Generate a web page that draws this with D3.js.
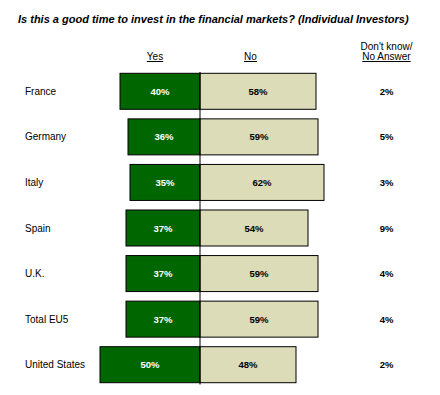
<!DOCTYPE html>
<html>
<head>
<meta charset="utf-8">
<script src="https://cdn.jsdelivr.net/npm/d3@7"></script>
<style>
  html, body { margin: 0; padding: 0; background: #fff; }
  svg { display: block; font-family: "Liberation Sans", Arial, sans-serif; }
</style>
</head>
<body>
<svg id="chart" width="440" height="395"></svg>
<script>
const title = "Is this a good time to invest in the financial markets? (Individual Investors)";
const countries = ["France", "Germany", "Italy", "Spain", "U.K.", "Total EU5", "United States"];
const yesValues = [40, 36, 35, 37, 37, 37, 50];
const noValues = [58, 59, 62, 54, 59, 59, 48];
const dkValues = [2, 5, 3, 9, 4, 4, 2];
const headers = { yes: "Yes", no: "No", dk: ["Don't know/", "No Answer"] };

const svg = d3.select("#chart");
const cx = 200;
const x = d3.scaleLinear().domain([0, 100]).range([0, 200]);
const y = d3.scaleBand().domain(countries).range([73.3, 382.7]).paddingInner(0.21).paddingOuter(0);

const green = "#006600", beige = "#dcdcb9";

svg.append("text")
  .attr("x", 18).attr("y", 23)
  .attr("font-size", 11).attr("font-weight", "bold").attr("font-style", "italic")
  .text(title);

// headers
const hdr = svg.append("g").attr("font-size", 10).attr("fill", "#000");
hdr.append("text").attr("x", 155).attr("y", 60).attr("text-anchor", "middle")
  .attr("text-decoration", "underline").text(headers.yes);
hdr.append("text").attr("x", 250.5).attr("y", 60).attr("text-anchor", "middle")
  .attr("text-decoration", "underline").text(headers.no);
hdr.append("text").attr("x", 386.5).attr("y", 50).attr("text-anchor", "middle")
  .text(headers.dk[0]);
hdr.append("text").attr("x", 386.5).attr("y", 60).attr("text-anchor", "middle")
  .attr("text-decoration", "underline").text(headers.dk[1]);

const rows = svg.selectAll("g.row").data(countries).join("g").attr("class", "row");

rows.append("text")
  .attr("x", 25).attr("y", d => y(d) + y.bandwidth() / 2 + 3.5)
  .attr("font-size", 10).text(d => d);

rows.append("rect")
  .attr("x", (d, i) => cx - x(yesValues[i]))
  .attr("y", d => y(d))
  .attr("width", (d, i) => x(yesValues[i]))
  .attr("height", y.bandwidth())
  .attr("fill", green).attr("stroke", "#000").attr("stroke-width", 1);

rows.append("rect")
  .attr("x", cx)
  .attr("y", d => y(d))
  .attr("width", (d, i) => x(noValues[i]))
  .attr("height", y.bandwidth())
  .attr("fill", beige).attr("stroke", "#000").attr("stroke-width", 1);

rows.append("text")
  .attr("x", (d, i) => cx - x(yesValues[i]) / 2)
  .attr("y", d => y(d) + y.bandwidth() / 2 + 3.5)
  .attr("text-anchor", "middle").attr("font-size", 9.5).attr("font-weight", "bold")
  .attr("fill", "#fff").text((d, i) => yesValues[i] + "%");

rows.append("text")
  .attr("x", (d, i) => cx + x(noValues[i]) / 2)
  .attr("y", d => y(d) + y.bandwidth() / 2 + 3.5)
  .attr("text-anchor", "middle").attr("font-size", 9.5).attr("font-weight", "bold")
  .attr("fill", "#000").text((d, i) => noValues[i] + "%");

rows.append("text")
  .attr("x", 386.5)
  .attr("y", d => y(d) + y.bandwidth() / 2 + 3.5)
  .attr("text-anchor", "middle").attr("font-size", 9.5).attr("font-weight", "bold")
  .attr("fill", "#000").text((d, i) => dkValues[i] + "%");

svg.append("line")
  .attr("x1", cx).attr("x2", cx).attr("y1", 72).attr("y2", 384.5)
  .attr("stroke", "#000").attr("stroke-width", 1);
</script>
</body>
</html>
